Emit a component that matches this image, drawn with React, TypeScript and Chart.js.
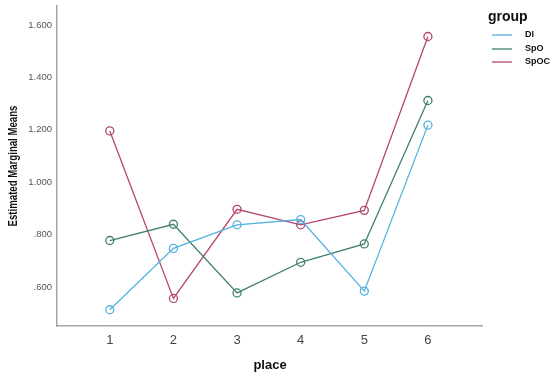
import React, { useEffect, useRef } from "react";
import { Chart, registerables } from "chart.js";

Chart.register(...registerables);

const places = [1, 2, 3, 4, 5, 6];
const seriesNames = ["DI", "SpO", "SpOC"];
const diValues = [0.514, 0.748, 0.838, 0.858, 0.585, 1.218];
const spoValues = [0.778, 0.840, 0.578, 0.695, 0.765, 1.312];
const spocValues = [1.196, 0.557, 0.897, 0.838, 0.893, 1.556];
const seriesColors = ["#52b2e0", "#3f7f70", "#b4466f"];
const yTicks = [0.6, 0.8, 1.0, 1.2, 1.4, 1.6];

const fmtY = (v: number) => {
  const s = v.toFixed(3);
  return v < 1 ? s.replace(/^0/, "") : s;
};

const overlay = {
  id: "overlay",
  afterDraw(chart: any) {
    const ctx = chart.ctx;
    ctx.save();
    ctx.fillStyle = "#111";
    ctx.translate(13, 166);
    ctx.rotate(-Math.PI / 2);
    ctx.scale(0.74, 1);
    ctx.font = "bold 13px 'Liberation Sans', Arial, sans-serif";
    ctx.textAlign = "center";
    ctx.textBaseline = "middle";
    ctx.fillText("Estimated Marginal Means", 0, 0);
    ctx.restore();

    ctx.save();
    ctx.fillStyle = "#111";
    ctx.font = "bold 13px 'Liberation Sans', Arial, sans-serif";
    ctx.textAlign = "center";
    ctx.textBaseline = "middle";
    ctx.fillText("place", 270, 365);

    ctx.textAlign = "left";
    ctx.font = "bold 14px 'Liberation Sans', Arial, sans-serif";
    ctx.fillText("group", 488, 17);
    const ys = [35, 49, 62];
    ctx.font = "bold 9px 'Liberation Sans', Arial, sans-serif";
    seriesNames.forEach((n, i) => {
      ctx.strokeStyle = seriesColors[i];
      ctx.lineWidth = 1.3;
      ctx.beginPath();
      ctx.moveTo(492, ys[i]);
      ctx.lineTo(512, ys[i]);
      ctx.stroke();
      ctx.fillStyle = "#111";
      ctx.fillText(n, 525, ys[i]);
    });
    ctx.restore();
  },
};

export default function App() {
  const ref = useRef<HTMLCanvasElement>(null);
  useEffect(() => {
    const values = [diValues, spoValues, spocValues];
    const chart = new Chart(ref.current!, {
      type: "line",
      data: {
        datasets: seriesNames.map((n, i) => ({
          label: n,
          data: places.map((p, j) => ({ x: p, y: values[i][j] })),
          borderColor: seriesColors[i],
          backgroundColor: "rgba(255,255,255,0)",
          borderWidth: 1.3,
          pointRadius: 4,
          pointBorderWidth: 1.3,
          pointBackgroundColor: "rgba(255,255,255,0)",
          pointBorderColor: seriesColors[i],
          tension: 0,
        })),
      },
      options: {
        animation: false,
        responsive: false,
        layout: { padding: { top: 3, right: 68, left: 0, bottom: 0 } },
        plugins: { legend: { display: false }, tooltip: { enabled: false } },
        scales: {
          x: {
            type: "linear",
            min: 0.17,
            max: 6.85,
            afterBuildTicks: (s: any) => {
              s.ticks = places.map((v) => ({ value: v }));
            },
            afterFit: (s: any) => {
              s.height = 51;
              s.paddingLeft = 0;
              s.paddingRight = 0;
            },
            grid: { display: false, drawTicks: false },
            border: { color: "#a6a6a6", width: 1.5 },
            ticks: {
              color: "#444",
              padding: 7,
              font: { family: "'Liberation Sans', Arial", size: 13 },
              callback: (v: any) => String(v),
            },
          },
          y: {
            min: 0.452,
            max: 1.675,
            afterBuildTicks: (s: any) => {
              s.ticks = yTicks.map((v) => ({ value: v }));
            },
            afterFit: (s: any) => {
              s.width = 57;
              s.paddingTop = 0;
              s.paddingBottom = 0;
            },
            grid: { display: false, drawTicks: false },
            border: { color: "#a6a6a6", width: 1.5 },
            ticks: {
              color: "#555",
              padding: 5,
              font: { family: "'Liberation Sans', Arial", size: 9.5 },
              callback: (v: any) => fmtY(Number(v)),
            },
          },
        },
      },
      plugins: [overlay],
    } as any);
    return () => chart.destroy();
  }, []);
  return (
    <div style={{ position: "absolute", left: 0, top: 0, width: 550, height: 377, background: "#fff" }}>
      <canvas ref={ref} width={550} height={377} style={{ display: "block" }} />
    </div>
  );
}
